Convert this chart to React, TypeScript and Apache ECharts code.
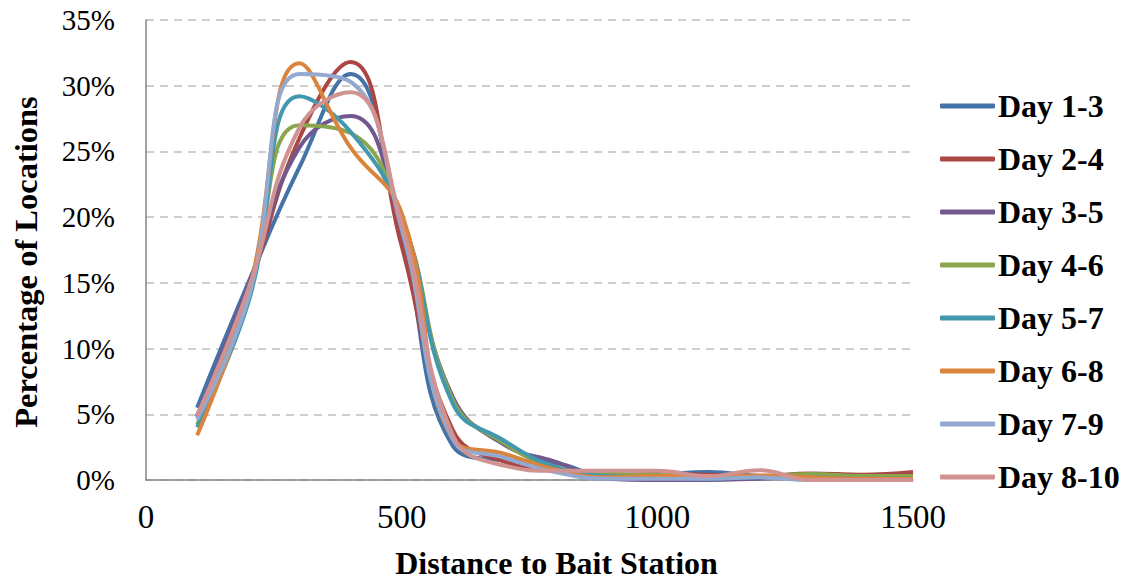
import React, { useEffect, useRef } from "react";
import * as echarts from "echarts";

const distances = [100, 200, 300, 400, 500, 600, 700, 800, 900, 1000, 1100, 1200, 1300, 1400, 1500];

const seriesNames = ["Day 1-3", "Day 2-4", "Day 3-5", "Day 4-6", "Day 5-7", "Day 6-8", "Day 7-9", "Day 8-10"];

const day1to3 = [5.5, 15.0, 23.8, 30.9, 18.5, 2.6, 1.5, 1.3, 0.3, 0.4, 0.6, 0.3, 0.2, 0.1, 0.1];
const day2to4 = [4.9, 14.5, 26.0, 31.8, 17.8, 3.8, 1.4, 0.8, 0.4, 0.45, 0.4, 0.3, 0.5, 0.4, 0.6];
const day3to5 = [4.8, 14.8, 25.3, 27.7, 19.5, 6.3, 2.7, 1.4, 0.1, 0.0, 0.0, 0.1, 0.2, 0.1, 0.1];
const day4to6 = [4.2, 14.0, 27.0, 26.4, 20.0, 6.1, 2.8, 1.0, 0.5, 0.4, 0.3, 0.3, 0.45, 0.3, 0.3];
const day5to7 = [4.0, 13.5, 29.2, 26.5, 20.0, 5.8, 3.0, 1.0, 0.3, 0.2, 0.1, 0.2, 0.2, 0.1, 0.1];
const day6to8 = [3.4, 14.2, 31.7, 25.3, 20.3, 3.1, 2.0, 0.8, 0.2, 0.3, 0.3, 0.35, 0.2, 0.1, 0.1];
const day7to9 = [4.6, 13.8, 30.9, 30.3, 19.1, 3.1, 1.7, 0.6, 0.1, 0.1, 0.1, 0.2, 0.0, 0.0, 0.0];
const day8to10 = [4.9, 14.5, 26.8, 29.5, 19.5, 3.4, 1.1, 0.7, 0.7, 0.7, 0.3, 0.75, 0.0, 0.0, 0.0];

const allValues = [day1to3, day2to4, day3to5, day4to6, day5to7, day6to8, day7to9, day8to10];

const colors = ["#4572A7", "#AA4643", "#71588F", "#89A54E", "#4198AF", "#DB843D", "#93A9CF", "#D19392"];

const yTicks = [0, 5, 10, 15, 20, 25, 30, 35];
const xTicks = [0, 500, 1000, 1500];

const FONT = "Liberation Serif";

export default function App() {
  const ref = useRef<HTMLDivElement>(null);

  useEffect(() => {
    if (!ref.current) return;
    const chart = echarts.init(ref.current, null, { renderer: "svg" });
    const option = {
      animation: false,
      backgroundColor: "#ffffff",
      color: colors,
      grid: { left: 146, right: 215, top: 20, bottom: 96, containLabel: false },
      legend: {
        orient: "vertical",
        left: 940,
        top: 90,
        padding: 0,
        itemWidth: 55,
        itemHeight: 5,
        itemGap: 21,
        icon: "roundRect",
        data: seriesNames,
        textStyle: {
          fontFamily: FONT,
          fontWeight: "bold",
          fontSize: 32,
          color: "#000",
          lineHeight: 30,
          padding: [0, 0, 0, -2],
        },
      },
      xAxis: {
        type: "value",
        min: xTicks[0],
        max: xTicks[xTicks.length - 1],
        interval: 500,
        name: "Distance to Bait Station",
        nameLocation: "middle",
        nameGap: 67,
        nameTextStyle: {
          fontFamily: FONT,
          fontWeight: "bold",
          fontSize: 32,
          color: "#000",
          padding: [0, 0, 0, 54],
        },
        axisLine: { show: true, lineStyle: { color: "#868686", width: 1.5 } },
        axisTick: { show: false },
        splitLine: { show: false },
        axisLabel: {
          fontFamily: FONT,
          fontSize: 33,
          color: "#000",
          margin: 20,
          formatter: (v: number) => String(v),
        },
      },
      yAxis: {
        type: "value",
        min: yTicks[0],
        max: yTicks[yTicks.length - 1],
        interval: 5,
        name: "Percentage of Locations",
        nameLocation: "middle",
        nameGap: 104,
        nameTextStyle: {
          fontFamily: FONT,
          fontWeight: "bold",
          fontSize: 32.5,
          color: "#000",
          padding: [0, 24, 0, 0],
        },
        axisLine: { show: true, lineStyle: { color: "#868686", width: 1.5 } },
        axisTick: { show: false },
        splitLine: { show: true, lineStyle: { color: "#BFBFBF", width: 1.5, type: [8, 6] } },
        axisLabel: { fontFamily: FONT, fontSize: 29, color: "#000", margin: 31, formatter: "{value}%" },
      },
      series: seriesNames.map((name, i) => ({
        name,
        type: "line",
        smooth: 0.45,
        symbol: "none",
        lineStyle: { width: 4, color: colors[i] },
        itemStyle: { color: colors[i] },
        data: distances.map((d, j) => [d, allValues[i][j]]),
      })),
    };
    chart.setOption(option as any);
    return () => chart.dispose();
  }, []);

  return <div ref={ref} style={{ width: 1128, height: 584, position: "absolute", left: 0, top: 0 }} />;
}
